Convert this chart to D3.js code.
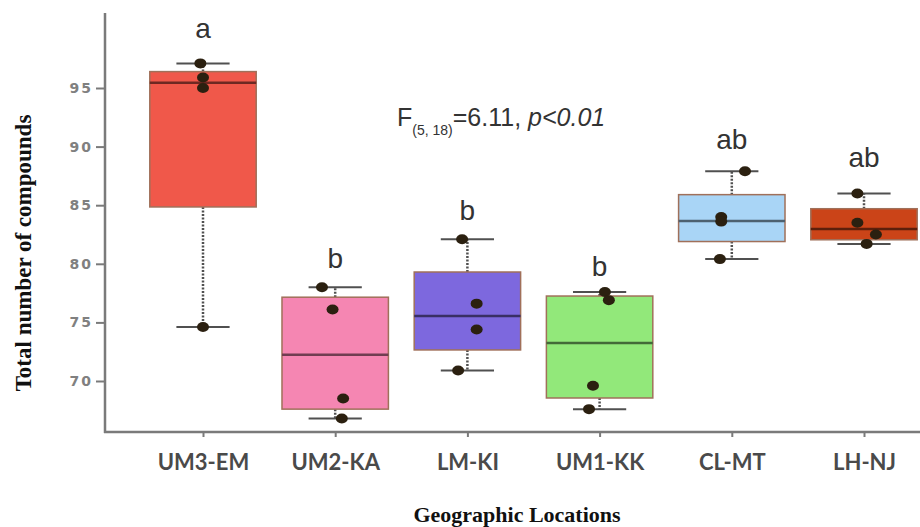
<!DOCTYPE html>
<html><head><meta charset="utf-8">
<script src="https://cdn.jsdelivr.net/npm/d3@7"></script>
<style>body{margin:0;background:#fff}svg{display:block}</style>
</head><body>
<svg id="c" width="920" height="527"></svg>
<script>
const categories = ["UM3-EM","UM2-KA","LM-KI","UM1-KK","CL-MT","LH-NJ"];
const whiskerLow  = [74.6, 66.8, 70.9, 67.6, 80.4, 81.7];
const q1          = [84.85, 67.6, 72.65, 68.55, 81.9, 82.05];
const median      = [95.45, 72.25, 75.55, 73.25, 83.65, 82.97];
const q3          = [96.4, 77.15, 79.3, 77.25, 85.9, 84.7];
const whiskerHigh = [97.1, 78.0, 82.1, 77.6, 87.9, 86.0];
const points = [
  [97.1, 95.9, 95.0, 74.6],
  [78.0, 76.1, 68.5, 66.8],
  [82.1, 76.6, 74.4, 70.9],
  [77.6, 76.9, 69.6, 67.6],
  [87.9, 84.0, 83.6, 80.4],
  [86.0, 83.5, 82.5, 81.7]
];
const jitter = [
  [-0.02, 0.0, 0.0, 0.0],
  [-0.1, -0.02, 0.06, 0.05],
  [-0.04, 0.07, 0.07, -0.07],
  [0.04, 0.07, -0.05, -0.08],
  [0.1, -0.08, -0.08, -0.09],
  [-0.05, -0.05, 0.09, 0.02]
];
const letters = ["a","b","b","b","ab","ab"];
const letterPos = [99.3, 79.6, 83.7, 79.0, 89.8, 88.3];
const fills = ["#f0584a","#f586b2","#7d68de","#92e87a","#a9d5f6","#cb4418"];
const yTicks = [70,75,80,85,90,95];

const svg = d3.select("#c");
const x = d3.scalePoint().domain(categories).range([203, 864]);
const step = x.step();
const bw = step * 0.805;
const y = d3.scaleLinear().domain([70, 95]).range([381, 88]);

// axes
const axisCol = "#7a7a7a";
svg.append("line").attr("x1",105).attr("x2",105).attr("y1",13).attr("y2",433)
  .attr("stroke",axisCol).attr("stroke-width",2.5);
svg.append("line").attr("x1",104).attr("x2",920).attr("y1",432).attr("y2",432)
  .attr("stroke",axisCol).attr("stroke-width",2.5);

const yAxis = svg.append("g").attr("transform","translate(105,0)")
  .call(d3.axisLeft(y).tickValues(yTicks).tickSize(9).tickPadding(3));
yAxis.select(".domain").remove();
yAxis.selectAll(".tick line").attr("stroke",axisCol).attr("stroke-width",2);
yAxis.selectAll(".tick text").attr("fill","#808080")
  .style("font-family","DejaVu Sans").style("font-weight","bold")
  .style("font-size","14px").style("letter-spacing","2px");

const xAxis = svg.append("g").attr("transform","translate(0,432)")
  .call(d3.axisBottom(x).tickSize(5).tickPadding(17));
xAxis.select(".domain").remove();
xAxis.selectAll(".tick line").attr("stroke",axisCol).attr("stroke-width",2);
xAxis.selectAll(".tick text").attr("fill","#4a4a4a")
  .style("font-family","Lato").style("font-weight","bold")
  .style("font-size","22px");

// boxes
const g = svg.append("g");
categories.forEach((c, i) => {
  const cx = x(c);
  const wcol = "#505050";
  g.append("line").attr("x1",cx).attr("x2",cx).attr("y1",y(q3[i])).attr("y2",y(whiskerHigh[i]))
    .attr("stroke",wcol).attr("stroke-width",2.5).attr("stroke-dasharray","2,1.5");
  g.append("line").attr("x1",cx).attr("x2",cx).attr("y1",y(q1[i])).attr("y2",y(whiskerLow[i]))
    .attr("stroke",wcol).attr("stroke-width",2.5).attr("stroke-dasharray","2,1.5");
  [whiskerHigh[i], whiskerLow[i]].forEach(v => {
    g.append("line").attr("x1",cx - bw/4).attr("x2",cx + bw/4).attr("y1",y(v)).attr("y2",y(v))
      .attr("stroke",wcol).attr("stroke-width",2);
  });
  g.append("rect").attr("x",cx - bw/2).attr("width",bw)
    .attr("y",y(q3[i])).attr("height",y(q1[i]) - y(q3[i]))
    .attr("fill",fills[i]).attr("stroke","#a0705a").attr("stroke-width",1.5);
  g.append("line").attr("x1",cx - bw/2).attr("x2",cx + bw/2)
    .attr("y1",y(median[i])).attr("y2",y(median[i]))
    .attr("stroke",d3.color(fills[i]).darker(2.2)).attr("stroke-width",2.5);
  points[i].forEach((v, j) => {
    g.append("ellipse").attr("cx",cx + jitter[i][j]*step).attr("cy",y(v))
      .attr("rx",6).attr("ry",5).attr("fill","#2b2010");
  });
  g.append("text").attr("x",cx).attr("y",y(letterPos[i])).attr("text-anchor","middle")
    .attr("fill","#333").style("font-family","Liberation Sans").style("font-size","28px")
    .text(letters[i]);
});

// annotation
const ann = svg.append("text").attr("x",397).attr("y",126).attr("fill","#333")
  .style("font-family","Liberation Sans").style("font-size","25px");
ann.append("tspan").text("F");
ann.append("tspan").attr("dy",9).style("font-size","14px").text("(5, 18)");
ann.append("tspan").attr("dy",-9).text("=6.11, ");
ann.append("tspan").style("font-style","italic").text("p<0.01");

// axis titles
svg.append("text").attr("transform","translate(31,253) rotate(-90)")
  .attr("text-anchor","middle").attr("fill","#111")
  .style("font-family","Liberation Serif").style("font-weight","bold").style("font-size","23px")
  .text("Total number of compounds");
svg.append("text").attr("x",517).attr("y",522).attr("text-anchor","middle").attr("fill","#111")
  .style("font-family","Liberation Serif").style("font-weight","bold").style("font-size","22px")
  .text("Geographic Locations");
</script>
</body></html>
